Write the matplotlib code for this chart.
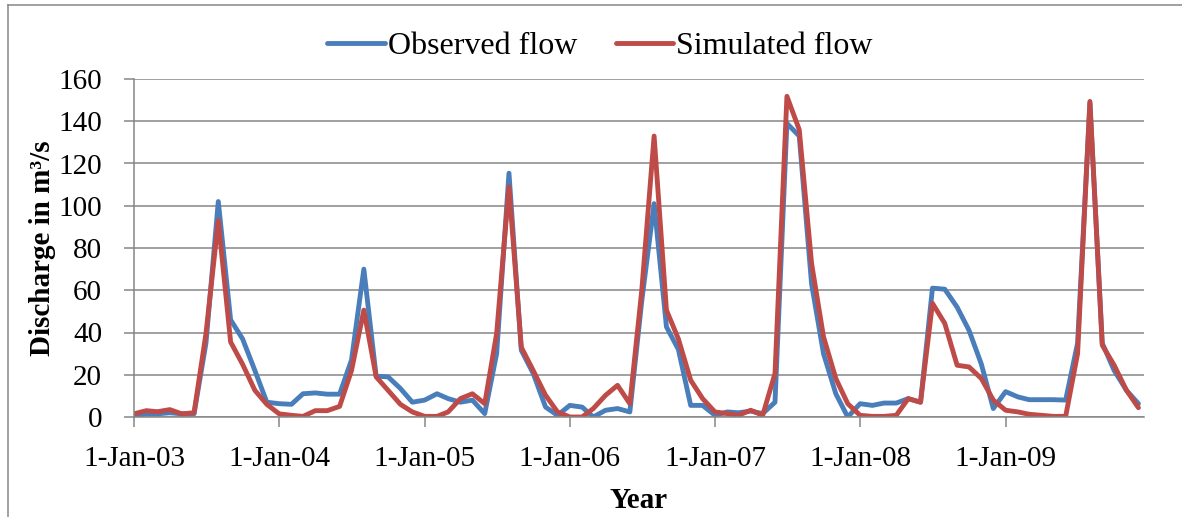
import numpy as np
import pandas as pd
import matplotlib
matplotlib.use("Agg")
import matplotlib.pyplot as plt
from matplotlib.lines import Line2D

# monthly discharge, Jan 2003 - Dec 2009 (m3/s)
months = pd.date_range("2003-01-01", periods=84, freq="MS")

observed = [0.5, 1.5, 1.5, 2, 1.5, 1.5, 35, 102, 46, 37, 22, 7,
            6.3, 6, 11, 11.4, 10.8, 10.8, 27, 70, 19.3, 19, 13.5, 7,
            8, 11, 8.7, 7, 8, 1.6, 30, 115.4, 31.6, 20.6, 4.7, 0.8,
            5.5, 4.7, 0, 3.2, 4, 2.4, 55, 101, 42.7, 32, 5.5, 5.5,
            0.8, 2.4, 2, 2.8, 1.6, 7, 139, 133, 63, 30, 11, 0,
            6.3, 5.5, 6.6, 6.6, 8.7, 7, 61, 60.5, 52, 41, 25, 4,
            12, 9.5, 8.2, 8.2, 8.2, 8, 35, 148.6, 35, 22, 12.6, 6.3]

simulated = [1.5, 3, 2.5, 3.5, 1.5, 2, 39.5, 93, 35.5, 25, 12.6, 6,
             1.5, 0.8, 0.3, 3, 3, 5, 22, 50.6, 19, 12.6, 6, 2.4,
             0.3, 0.3, 2.4, 8.7, 11, 6.3, 39.5, 109, 33, 22, 10.3, 2.4,
             0, 0, 4, 10.3, 15, 6.3, 60, 133, 50.6, 37, 17.4, 8.7,
             2.4, 1.6, 0.8, 3.2, 0.8, 20.6, 151.8, 136, 72.7, 38, 18.2, 6.3,
             0.8, 0.3, 0.3, 0.8, 8.7, 7, 53.8, 44.3, 24.5, 23.7, 18.2, 8,
             3.2, 2.4, 1.3, 0.8, 0.3, 0.3, 30, 149.4, 34, 24.5, 12.6, 4.4]

tick_dates = pd.date_range("2003-01-01", "2009-01-01", freq="YS")
tick_labels = ["1-Jan-%02d" % (d.year % 100) for d in tick_dates]

plt.rcParams["font.family"] = ["Liberation Serif", "DejaVu Serif"]
grey = "#868686"

fig = plt.figure(figsize=(11.82, 5.17), dpi=100)
ax = fig.add_axes([134 / 1182, 1 - 417 / 517, 1010 / 1182, 338 / 517])

ax.plot(months, observed, color="#4A7EBB", lw=3.5, label="Observed flow",
        solid_joinstyle="round", solid_capstyle="round")
ax.plot(months, simulated, color="#BE4B48", lw=3.5, label="Simulated flow",
        solid_joinstyle="round", solid_capstyle="round")

ax.set_ylim(0, 160)
ax.set_yticks(np.arange(0, 161, 20))
ax.set_xlim(pd.Timestamp("2003-01-01"), pd.Timestamp("2009-12-15"))
ax.set_xticks(tick_dates)
ax.set_xticklabels(tick_labels)

ax.grid(axis="y", color=grey, lw=1.1)
ax.set_axisbelow(True)
for s in ["top", "right"]:
    ax.spines[s].set_visible(False)
for s in ["left", "bottom"]:
    ax.spines[s].set_color(grey)
    ax.spines[s].set_linewidth(1.1)

ax.tick_params(axis="both", colors=grey, labelcolor="black", labelsize=21,
               width=1.1, length=7)
ax.tick_params(axis="y", pad=16)
ax.tick_params(axis="x", pad=14)

ax.set_ylabel("Discharge in m³/s", fontsize=21, fontweight="bold", labelpad=2)
ax.set_xlabel("Year", fontsize=21, fontweight="bold", labelpad=11)

ax.legend(loc="upper center", bbox_to_anchor=(600 / 1182, 1 - 32 / 517), ncol=2,
          frameon=False, fontsize=23, handlelength=1.8, handletextpad=0.1,
          columnspacing=1.2, bbox_transform=fig.transFigure, borderaxespad=0,
          borderpad=0)

# outer chart frame (only top and left visible in the crop)
fig.add_artist(Line2D([8 / 1182, 8 / 1182], [0, 1 - 5 / 517], color=grey, lw=1.1,
                      transform=fig.transFigure))
fig.add_artist(Line2D([8 / 1182, 1], [1 - 5 / 517, 1 - 5 / 517], color=grey, lw=1.1,
                      transform=fig.transFigure))

fig.savefig("out.png", dpi=100)
